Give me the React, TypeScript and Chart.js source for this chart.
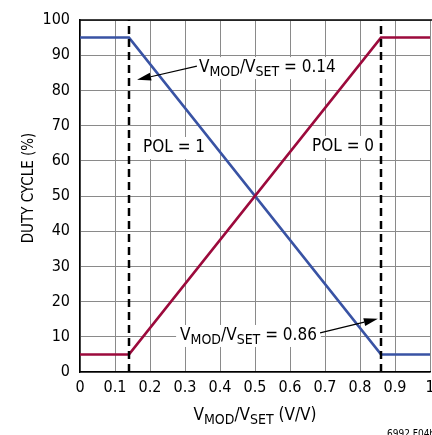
import React, { useEffect, useRef } from "react";
import { Chart, registerables } from "chart.js";

Chart.register(...registerables);

// ---- data ----
const xTicks = [0, 0.1, 0.2, 0.3, 0.4, 0.5, 0.6, 0.7, 0.8, 0.9, 1];
const yTicks = [0, 10, 20, 30, 40, 50, 60, 70, 80, 90, 100];
const pol1X = [0, 0.14, 0.86, 1];
const pol1Y = [95, 95, 5, 5];
const pol0X = [0, 0.14, 0.86, 1];
const pol0Y = [5, 5, 95, 95];
const markerLow = 0.14;
const markerHigh = 0.86;

const FONT = "'DejaVu Sans Condensed', 'Liberation Sans Narrow', sans-serif";
const BLUE = "#3953a4";
const RED = "#9c0a3c";

type Part = { t: string; sub?: boolean };

function measureParts(ctx: CanvasRenderingContext2D, parts: Part[], size: number, subSize: number) {
  let w = 0;
  for (const p of parts) {
    ctx.font = `${p.sub ? subSize : size}px ${FONT}`;
    w += ctx.measureText(p.t).width;
  }
  return w;
}

function drawParts(ctx: CanvasRenderingContext2D, parts: Part[], x: number, y: number, size: number, subSize: number) {
  let cx = x;
  ctx.textAlign = "left";
  ctx.textBaseline = "alphabetic";
  for (const p of parts) {
    ctx.font = `${p.sub ? subSize : size}px ${FONT}`;
    ctx.fillText(p.t, cx, p.sub ? y + 4 : y);
    cx += ctx.measureText(p.t).width;
  }
  return cx;
}

function arrow(ctx: CanvasRenderingContext2D, x1: number, y1: number, x2: number, y2: number) {
  ctx.save();
  ctx.strokeStyle = "#000";
  ctx.fillStyle = "#000";
  ctx.lineWidth = 1.2;
  const a = Math.atan2(y2 - y1, x2 - x1);
  const hl = 14, hw = 4;
  const bx = x2 - hl * Math.cos(a), by = y2 - hl * Math.sin(a);
  ctx.beginPath();
  ctx.moveTo(x1, y1);
  ctx.lineTo(bx, by);
  ctx.stroke();
  ctx.beginPath();
  ctx.moveTo(x2, y2);
  ctx.lineTo(bx + hw * Math.sin(a), by - hw * Math.cos(a));
  ctx.lineTo(bx - hw * Math.sin(a), by + hw * Math.cos(a));
  ctx.closePath();
  ctx.fill();
  ctx.restore();
}

const ratioParts = (val: string): Part[] => [
  { t: "V" }, { t: "MOD", sub: true }, { t: "/V" }, { t: "SET", sub: true }, { t: " = " + val },
];

const annotPlugin = {
  id: "annot",
  beforeDatasetsDraw(chart: any) {
    const ctx: CanvasRenderingContext2D = chart.ctx;
    const xs = chart.scales.x, ys = chart.scales.y;
    const ca = chart.chartArea;
    ctx.save();
    // top border
    ctx.strokeStyle = "#000";
    ctx.lineWidth = 1.5;
    ctx.beginPath();
    ctx.moveTo(ca.left, ca.top);
    ctx.lineTo(ca.right + 2, ca.top);
    ctx.stroke();

    const size = 17, sub = 14;
    const labelBox = (parts: Part[], dx: number, dy: number) => {
      const x = xs.getPixelForValue(dx), y = ys.getPixelForValue(dy);
      const w = measureParts(ctx, parts, size, sub);
      ctx.fillStyle = "#fff";
      ctx.fillRect(x - 4, y - 15, w + 8, 22);
      ctx.fillStyle = "#000";
      drawParts(ctx, parts, x, y, size, sub);
    };
    labelBox(ratioParts("0.14"), 0.34, 85.2);
    labelBox(ratioParts("0.86"), 0.286, 9.1);
    labelBox([{ t: "POL = 1" }], 0.18, 62.5);
    labelBox([{ t: "POL = 0" }], 0.663, 62.8);
    ctx.restore();
  },
  afterDatasetsDraw(chart: any) {
    const ctx: CanvasRenderingContext2D = chart.ctx;
    const xs = chart.scales.x, ys = chart.scales.y;
    ctx.save();
    arrow(ctx, xs.getPixelForValue(0.334), ys.getPixelForValue(86.9), xs.getPixelForValue(0.163), ys.getPixelForValue(83));
    arrow(ctx, xs.getPixelForValue(0.686), ys.getPixelForValue(11.1), xs.getPixelForValue(0.851), ys.getPixelForValue(15.1));

    ctx.fillStyle = "#000";
    // x axis title
    const xt: Part[] = [{ t: "V" }, { t: "MOD", sub: true }, { t: "/V" }, { t: "SET", sub: true }, { t: " (V/V)" }];
    const w = measureParts(ctx, xt, 17, 14);
    const cx = (xs.getPixelForValue(0) + xs.getPixelForValue(1)) / 2;
    drawParts(ctx, xt, cx - w / 2, 420, 17, 14);

    // y axis title
    ctx.save();
    ctx.translate(33, 188);
    ctx.rotate(-Math.PI / 2);
    ctx.font = `15px ${FONT}`;
    ctx.textAlign = "center";
    ctx.textBaseline = "alphabetic";
    ctx.fillText("DUTY CYCLE (%)", 0, 0);
    ctx.restore();

    // footnote
    ctx.font = `10px ${FONT}`;
    ctx.textAlign = "left";
    ctx.fillText("6992 F04b", 387, 437);
    ctx.restore();
  },
};

export default function App() {
  const ref = useRef<HTMLCanvasElement>(null);
  useEffect(() => {
    if (!ref.current) return;
    const chart = new Chart(ref.current, {
      type: "scatter",
      data: {
        datasets: [
          {
            label: "POL = 1",
            data: pol1X.map((x, i) => ({ x, y: pol1Y[i] })),
            showLine: true,
            borderColor: BLUE,
            borderWidth: 2.5,
            pointRadius: 0,
            order: 2,
          },
          {
            label: "POL = 0",
            data: pol0X.map((x, i) => ({ x, y: pol0Y[i] })),
            showLine: true,
            borderColor: RED,
            borderWidth: 2.5,
            pointRadius: 0,
            order: 1,
          },
          {
            label: "low",
            data: [{ x: markerLow, y: 0 }, { x: markerLow, y: 100 }],
            showLine: true,
            borderColor: "#000",
            borderWidth: 2.5,
            borderDash: [8, 5],
            pointRadius: 0,
            order: 0,
          },
          {
            label: "high",
            data: [{ x: markerHigh, y: 0 }, { x: markerHigh, y: 100 }],
            showLine: true,
            borderColor: "#000",
            borderWidth: 2.5,
            borderDash: [8, 5],
            pointRadius: 0,
            order: 0,
          },
        ],
      },
      options: {
        animation: false,
        responsive: false,
        maintainAspectRatio: false,
        layout: { padding: { left: 0, top: 20, right: 20, bottom: 0 } },
        plugins: { legend: { display: false }, tooltip: { enabled: false } },
        scales: {
          x: {
            type: "linear",
            min: 0,
            max: 1,
            afterBuildTicks: (s: any) => { s.ticks = xTicks.map((v) => ({ value: v })); },
            afterFit: (s: any) => { s.height = 63; },
            ticks: {
              color: "#000",
              font: { family: FONT, size: 16 },
              padding: 6,
              maxRotation: 0,
              autoSkip: false,
              callback: (v: any) => String(v),
            },
            grid: { color: "#8a8a8a", lineWidth: 1, drawTicks: false },
            border: { color: "#000", width: 1.5 },
          },
          y: {
            type: "linear",
            min: 0,
            max: 100,
            afterBuildTicks: (s: any) => { s.ticks = yTicks.map((v) => ({ value: v })); },
            afterFit: (s: any) => { s.width = 80; },
            ticks: {
              color: "#000",
              font: { family: FONT, size: 16 },
              padding: 10,
              autoSkip: false,
            },
            grid: { color: "#8a8a8a", lineWidth: 1, drawTicks: false },
            border: { color: "#000", width: 1.5 },
          },
        },
      },
      plugins: [annotPlugin],
    });
    return () => chart.destroy();
  }, []);
  return (
    <div style={{ position: "absolute", left: 0, top: 0, width: 432, height: 435, overflow: "hidden", background: "#fff" }}>
      <canvas ref={ref} width={450} height={435} style={{ width: 450, height: 435, display: "block" }} />
    </div>
  );
}
